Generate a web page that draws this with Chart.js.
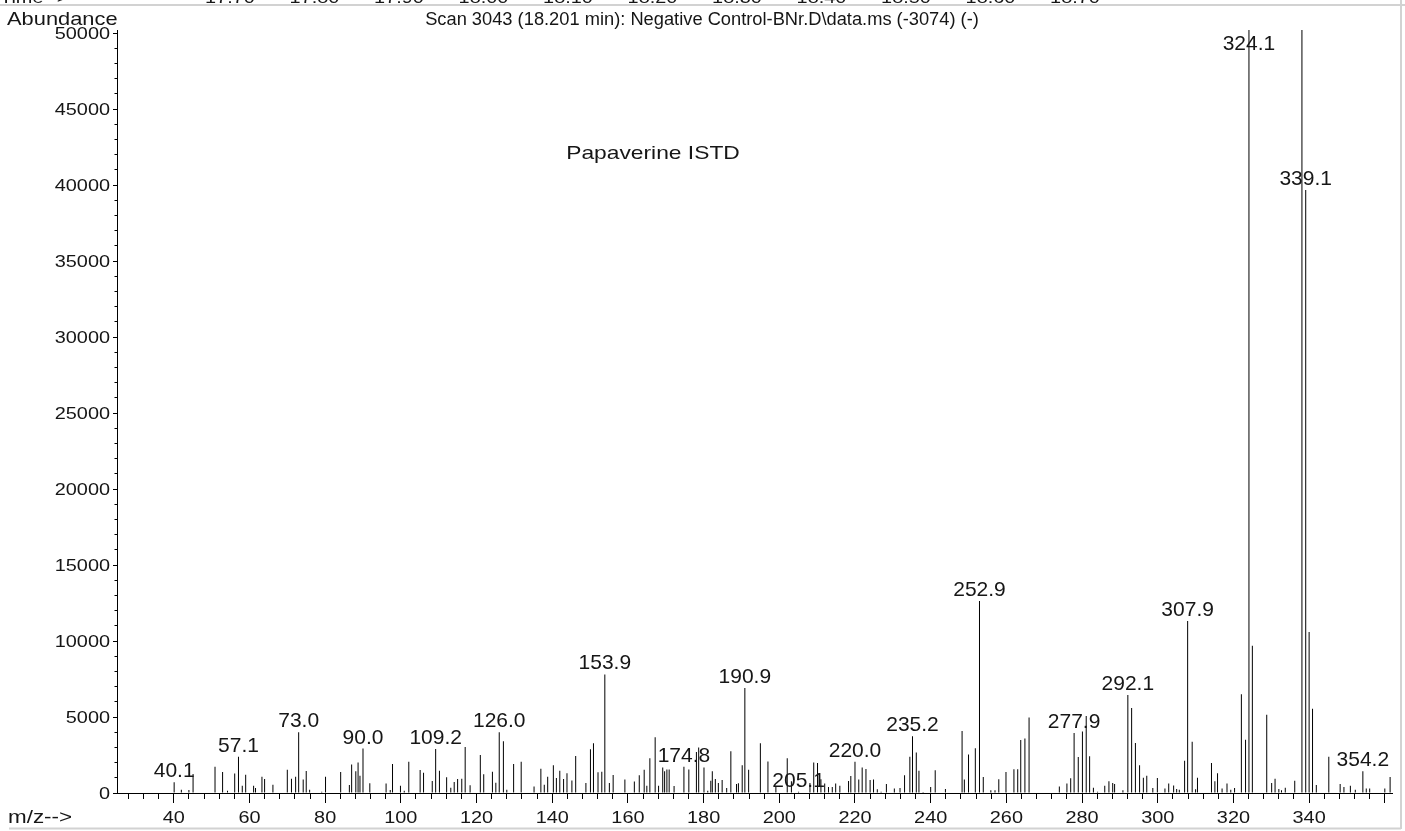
<!DOCTYPE html>
<html>
<head>
<meta charset="utf-8">
<script src="https://cdn.jsdelivr.net/npm/chart.js@4.4.1/dist/chart.umd.min.js"></script>
<style>
  html, body { margin: 0; padding: 0; background: #fff; }
  #wrap { width: 1405px; height: 831px; }
</style>
</head>
<body>
<div id="wrap"><canvas id="spectrum" width="1405" height="831"></canvas></div>
<script>
// m/z of each centroid and its abundance (same order)
const massToCharge = [
  40.1, 42.0, 44.0, 45.1, 50.9, 52.9, 54.2, 56.1, 57.1, 58.1, 59.0, 61.1, 61.6, 63.3, 64.0, 66.2,
  70.0, 71.1, 72.2, 73.0, 74.2, 75.0, 75.9, 79.1, 80.1, 84.1, 86.4, 87.0, 88.1, 88.7, 89.2, 90.0,
  91.8, 96.1, 97.2, 97.8, 99.9, 100.9, 102.1, 105.1, 106.0, 108.3, 109.2, 110.2, 112.1, 113.2, 114.1,
  115.0, 116.1, 117.0, 118.3, 121.0, 121.9, 124.2, 125.1, 126.0, 127.1, 128.0, 129.8, 131.8, 135.2,
  137.0, 137.9, 138.8, 140.3, 141.1, 142.0, 143.0, 143.9, 145.2, 146.2, 148.9, 150.1, 150.9, 152.1,
  153.1, 153.9, 155.1, 156.1, 159.2, 161.7, 163.0, 164.3, 165.0, 165.8, 167.2, 168.1, 169.2, 169.7,
  170.3, 170.9, 172.2, 174.8, 176.1, 178.1, 178.7, 180.1, 181.1, 181.9, 182.3, 183.1, 183.9, 184.9,
  186.1, 187.2, 188.7, 189.2, 190.2, 190.9, 191.9, 195.0, 197.0, 199.1, 202.1, 203.2, 205.1, 208.1,
  209.1, 210.1, 211.0, 212.0, 213.0, 214.0, 214.9, 216.0, 218.3, 218.9, 220.0, 221.0, 221.9, 222.9,
  224.0, 224.9, 225.9, 226.9, 228.3, 230.4, 231.9, 233.1, 234.5, 235.2, 236.2, 236.9, 238.0, 240.0,
  241.2, 243.9, 248.3, 248.9, 250.0, 251.8, 252.9, 253.9, 255.9, 257.0, 258.0, 259.9, 262.0, 263.0,
  263.8, 264.9, 266.0, 274.0, 276.0, 277.0, 277.9, 279.0, 280.1, 281.1, 282.0, 283.0, 284.1, 286.0,
  287.1, 288.1, 288.6, 290.8, 292.1, 293.1, 294.1, 295.2, 296.2, 297.1, 298.7, 299.9, 301.9, 302.9,
  304.2, 305.0, 305.7, 307.1, 307.9, 309.1, 310.0, 310.5, 314.2, 315.1, 315.8, 317.0, 318.3, 319.3,
  320.3, 322.1, 323.2, 324.1, 325.0, 328.8, 330.1, 331.0, 332.0, 332.7, 333.7, 336.2, 338.1, 339.1,
  340.0, 340.9, 341.9, 345.2, 348.2, 349.2, 350.9, 352.2, 354.2, 355.1, 356.0, 360.0, 361.4
];
const abundance = [
  700, 220, 200, 1250, 1730, 1380, 150, 1290, 2390, 480, 1200, 480, 330, 1075, 920, 550,
  1535, 945, 1075, 4000, 880, 1450, 220, 90, 1075, 1380, 530, 1870, 1430, 2000, 1140, 2920,
  640, 620, 200, 1910, 480, 150, 2060, 1515, 1340, 790, 2900, 1470, 1030, 350, 725,
  920, 945, 3030, 505, 2500, 1230, 1405, 680, 4000, 3400, 220, 1910, 2060, 420,
  1600, 550, 1075, 1830, 990, 1470, 920, 1300, 815, 2440, 660, 2880, 3270, 1360,
  1400, 7800, 660, 1190, 880, 750, 1165, 1535, 480, 2280, 3670, 480, 1670, 1430,
  1540, 1540, 460, 1735, 1540, 2700, 2990, 1670, 150, 810, 1430, 920, 660, 860,
  330, 2740, 600, 640, 1830, 6910, 1535, 3270, 2080, 400, 2280, 770, 90, 660,
  2000, 1980, 900, 620, 400, 400, 620, 480, 790, 1120, 2060, 880, 1670, 1580,
  860, 880, 240, 90, 600, 290, 330, 1165, 2390, 3730, 2660, 1470, 70, 400,
  1490, 260, 4080, 880, 2530, 2940, 12630, 1050, 175, 175, 900, 1380, 1560, 1560,
  3490, 3580, 4960, 420, 620, 970, 3950, 2370, 4040, 5070, 2410, 350, 90, 480,
  770, 660, 600, 175, 6440, 5590, 3290, 1820, 1010, 1140, 330, 990, 290, 620,
  500, 260, 220, 2130, 11320, 3380, 240, 1010, 1970, 770, 1300, 290, 620, 220,
  330, 6490, 3510, 50200, 9680, 5150, 660, 945, 260, 175, 350, 810, 50200, 39670,
  10600, 5550, 530, 2390, 600, 400, 480, 220, 1430, 290, 290, 290, 1050
];
// peaks that carry an m/z label
const labeledPeaks = [40.1, 57.1, 73.0, 90.0, 109.2, 126.0, 153.9, 174.8, 190.9, 205.1,
  220.0, 235.2, 252.9, 277.9, 292.1, 307.9, 324.1, 339.1, 354.2];
const xTickLabels = [40, 60, 80, 100, 120, 140, 160, 180, 200, 220, 240, 260, 280, 300, 320, 340];
const yTickLabels = [0, 5000, 10000, 15000, 20000, 25000, 30000, 35000, 40000, 45000, 50000];
// retention time axis of the chromatogram panel above (only its bottom edge shows)
const timeLabels = ['17.70', '17.80', '17.90', '18.00', '18.10', '18.20', '18.30', '18.40', '18.50', '18.60', '18.70'];

const X_MIN = 25.0, X_MAX = 361.9;
const Y_MAX = 50200;
const Y_MINOR_STEP = 1000;
const FONT = 'Liberation Sans, Arial, Helvetica, sans-serif';
const TEXT = '#161616';

const points = massToCharge.map((mz, i) => ({ x: mz, y: abundance[i] }));

// text with a horizontal stretch, like the plotter font
function stretchedText(ctx, str, x, y, size, stretch, align) {
  ctx.save();
  ctx.translate(x, y);
  ctx.scale(stretch, 1);
  ctx.font = size + 'px ' + FONT;
  ctx.textAlign = align;
  ctx.textBaseline = 'alphabetic';
  ctx.fillText(str, 0, 0);
  ctx.restore();
}

const decorations = {
  id: 'decorations',
  beforeDraw(chart) {
    const { ctx, width, height } = chart;
    ctx.save();
    ctx.fillStyle = '#fff';
    ctx.fillRect(0, 0, width, height);
    ctx.restore();
  },
  afterDraw(chart) {
    const { ctx } = chart;
    const xs = chart.scales.x, ys = chart.scales.y;
    ctx.save();

    // panel frame
    ctx.strokeStyle = '#d2d2d2';
    ctx.lineWidth = 2;
    ctx.beginPath();
    ctx.moveTo(0, 5); ctx.lineTo(1405, 5);
    ctx.moveTo(1401, 0); ctx.lineTo(1401, 829);
    ctx.moveTo(9, 828.5); ctx.lineTo(1401, 828.5);
    ctx.stroke();

    ctx.fillStyle = TEXT;
    stretchedText(ctx, 'Time-->', 0, 2.5, 17, 1.17, 'left');
    timeLabels.forEach((t, i) => stretchedText(ctx, t, 230 + i * 84.5, 2.5, 17, 1.17, 'center'));

    // axis tick labels
    xTickLabels.forEach(v => stretchedText(ctx, String(v), xs.getPixelForValue(v), 823, 17, 1.17, 'center'));
    yTickLabels.forEach(v => stretchedText(ctx, String(v), 110, ys.getPixelForValue(v) + 6, 17, 1.17, 'right'));

    stretchedText(ctx, 'Abundance', 7, 25, 19, 1.15, 'left');
    stretchedText(ctx, 'm/z-->', 8, 823, 19, 1.18, 'left');
    stretchedText(ctx, 'Scan 3043 (18.201 min): Negative Control-BNr.D\\data.ms (-3074) (-)', 702, 25, 18.3, 1, 'center');
    stretchedText(ctx, 'Papaverine ISTD', 653, 159, 19, 1.2, 'center');

    // m/z labels above the labelled peaks
    labeledPeaks.forEach(mz => {
      const i = massToCharge.indexOf(mz);
      const px = xs.getPixelForValue(mz);
      const py = Math.max(ys.getPixelForValue(abundance[i]) - 5, 50);
      stretchedText(ctx, mz.toFixed(1), px, py, 21, 1, 'center');
    });
    ctx.restore();
  }
};

new Chart(document.getElementById('spectrum'), {
  type: 'bar',
  data: {
    datasets: [{
      data: points,
      xAxisID: 'x',
      yAxisID: 'y',
      backgroundColor: '#000',
      borderWidth: 0,
      barThickness: 1,
      inflateAmount: 0
    }]
  },
  options: {
    responsive: false,
    animation: false,
    devicePixelRatio: 1,
    layout: { padding: { top: 30, right: 13, bottom: 0, left: 0 } },
    plugins: { legend: { display: false }, tooltip: { enabled: false } },
    scales: {
      x: {
        type: 'linear', position: 'bottom', min: X_MIN, max: X_MAX, weight: 1,
        offset: false,
        border: { color: '#000', width: 1 },
        grid: { drawOnChartArea: false, offset: false, tickLength: 10, color: '#000' },
        ticks: { stepSize: 20, includeBounds: false, autoSkip: false, display: false },
        afterFit: s => { s.height = 38; }
      },
      xMinor: {
        type: 'linear', position: 'bottom', min: X_MIN, max: X_MAX, weight: 0,
        offset: false,
        border: { display: false },
        grid: { drawOnChartArea: false, offset: false, tickLength: 6, color: '#000' },
        ticks: { stepSize: 4, includeBounds: false, display: false },
        afterFit: s => { s.height = 0; }
      },
      y: {
        type: 'linear', position: 'left', min: 0, max: Y_MAX, weight: 1,
        border: { color: '#000', width: 1 },
        grid: { drawOnChartArea: false, tickLength: 4, color: '#000' },
        ticks: { autoSkip: false, display: false },
        afterBuildTicks: s => { s.ticks = yTickLabels.map(v => ({ value: v })); },
        afterFit: s => { s.width = 117; }
      },
      yMinor: {
        type: 'linear', position: 'left', min: 0, max: Y_MAX, weight: 0,
        border: { display: false },
        grid: { drawOnChartArea: false, tickLength: 2.5, color: '#000' },
        ticks: { autoSkip: false, display: false },
        afterBuildTicks: s => {
          const ticks = [];
          for (let v = 0; v <= Y_MAX; v += Y_MINOR_STEP) ticks.push({ value: v });
          s.ticks = ticks;
        },
        afterFit: s => { s.width = 0; }
      }
    }
  },
  plugins: [decorations]
});
</script>
</body>
</html>
